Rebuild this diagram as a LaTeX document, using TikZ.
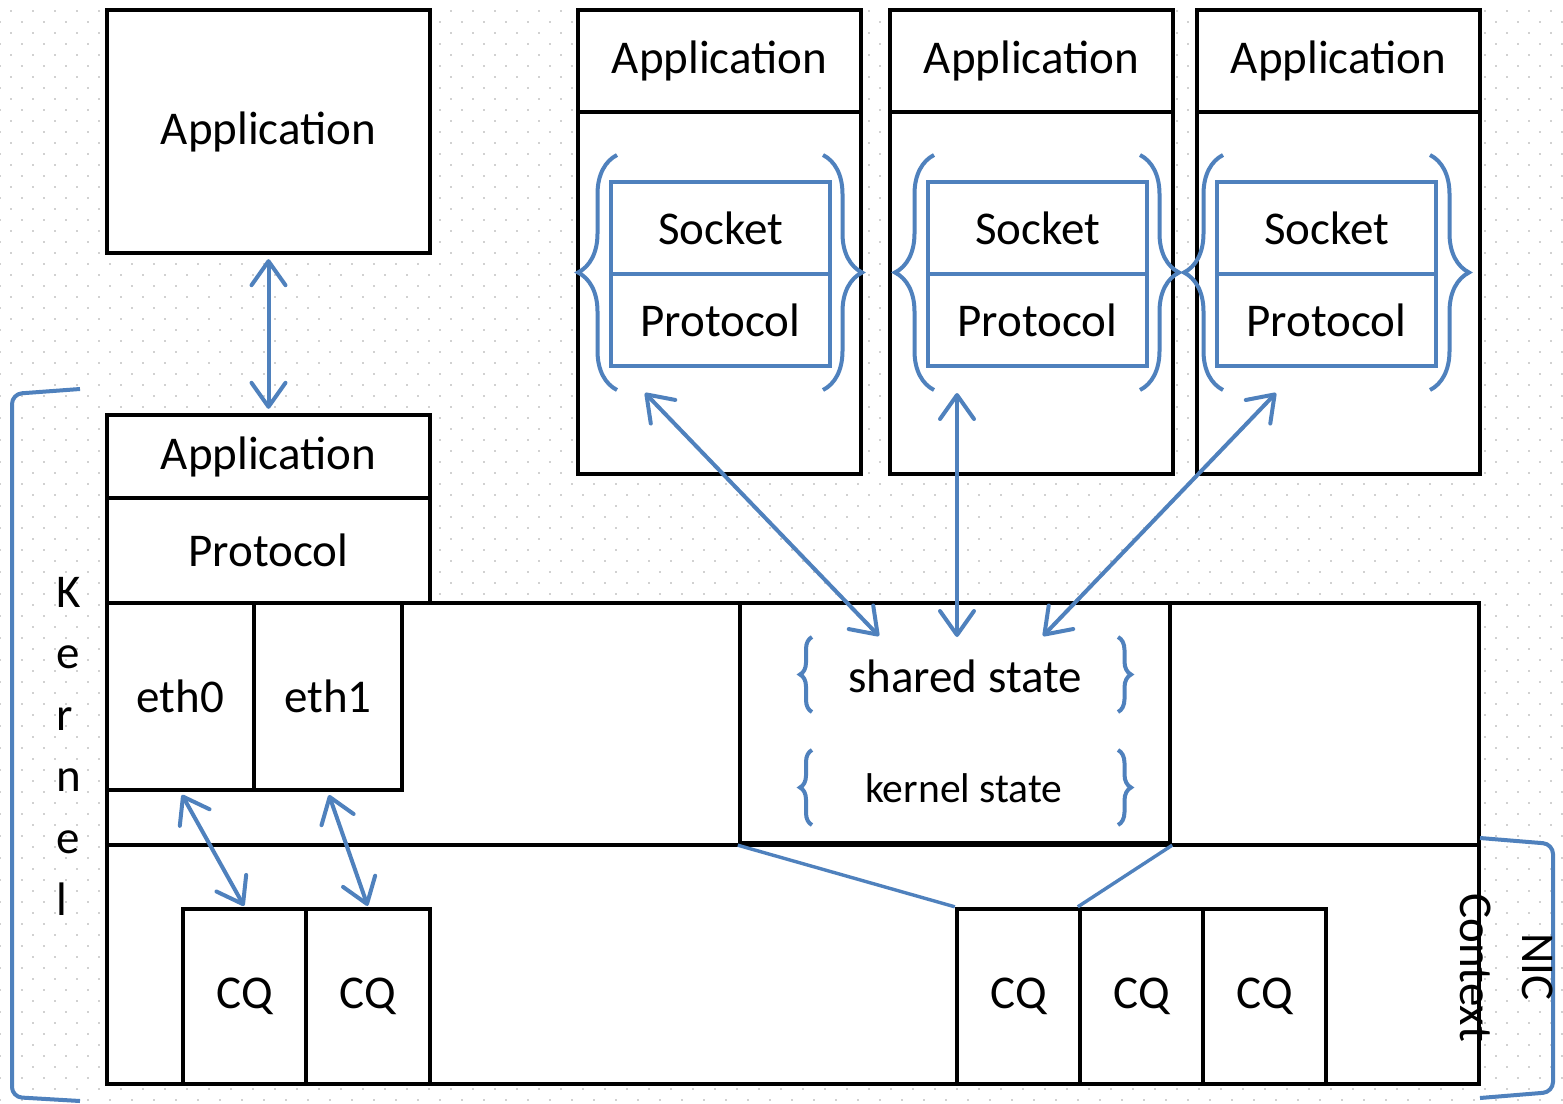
\documentclass[tikz,border=0pt]{standalone}
\usepackage{fontspec}
\setmainfont{Carlito}
\usetikzlibrary{fit,arrows.meta,decorations.pathreplacing}
\definecolor{ofblue}{HTML}{4F81BD}
\begin{document}
\begin{tikzpicture}[x=0.5pt,y=-0.5pt,
  lbl/.style={font=\fontsize{23.5}{28}\selectfont},
  box/.style={draw=black, line width=2.2pt, fill=white, inner sep=0pt},
  bbox/.style={draw=ofblue, line width=2pt, fill=white, inner sep=0pt},
  barb/.tip={Straight Barb[length=12pt,width=17pt,round]},
  dbl/.style={draw=ofblue, line width=2pt, line cap=round, barb-barb},
  brc/.style={draw=ofblue, line width=2pt, decorate, decoration={brace, amplitude=#1}},
  bracket/.style={draw=ofblue, line width=2pt, rounded corners=5pt},
  link/.style={draw=ofblue, line width=1.7pt},
  txt/.style={lbl, inner sep=0pt},
  dotrow/.style={draw=black!18, line width=1pt, dash pattern=on 1pt off 10pt},
]
\useasboundingbox (0,0) rectangle (1563,1103);
\fill[white] (0,0) rectangle (1563,1103);
% dotted background
\foreach \j in {1,...,100}{
  \pgfmathsetmacro\off{mod(\j,2)*11}
  \draw[dotrow] ({\off-1}, {\j*11}) -- (1570, {\j*11});
}

% left column
\node[box, fit={(107,10) (430,253)}] (app0) {};
\node[txt] (app0t) at (app0.center) {Application};
\node[box, fit={(107,603) (1479,1084)}] (kernel) {};
\node[box, fit={(740,603) (1170,843)}] (shared) {};
\draw[black, line width=2.2pt] (kernel.west |- shared.south) -- (kernel.east |- shared.south);
\node[box, fit={(107,415) (430,498)}] (kapp) {};
\node[txt] (kappt) at (kapp.center) {Application};
\node[box, fit={(107,498) (430,603)}] (kproto) {};
\node[txt] (kprotot) at (kproto.center) {Protocol};
\node[box, fit={(107,603) (254,790)}] (eth0) {};
\node[txt] (eth0t) at (eth0.center) {eth0};
\node[box, fit={(254,603) (402,790)}] (eth1) {};
\node[txt] (eth1t) at (eth1.center) {eth1};

% CQs
\foreach \n/\a/\b in {cq1/183/306, cq2/306/430, cq3/957/1080, cq4/1080/1203, cq5/1203/1326}{
  \node[box, fit={(\a,909) (\b,1084)}] (\n) {};
  \node[txt] (\n t) at (\n.center) {CQ};
}

\draw[link] (shared.south west) -- (cq3.north west);
\draw[link] (shared.south east) -- (cq4.north west);

% shared / kernel state
\node[txt, anchor=base] (sst) at (965,692) {shared state};
\node[txt, anchor=base, font=\fontsize{20.8}{25}\selectfont] (kst) at (964,802) {kernel state};
\draw[brc=6pt] (812,712) -- (812,637);
\draw[brc=6.5pt] (1118,637) -- (1118,712);
\draw[brc=6pt] (812,825) -- (812,750);
\draw[brc=6.5pt] (1118,750) -- (1118,825);

% user applications
\foreach \n/\a/\b/\c/\d in {A/578/861/611/830, B/890/1173/928/1147, C/1197/1480/1217/1436}{
  \node[box, fit={(\a,10) (\b,474)}] (app\n) {};
  \node[box, fit={(\a,10) (\b,112)}] (hdr\n) {};
  \node[txt] (hdr\n t) at (hdr\n.center) {Application};
  \node[bbox, fit={(\c,182) (\d,274)}] (sock\n) {};
  \node[txt] (sock\n t) at (sock\n.center) {Socket};
  \node[bbox, fit={(\c,274) (\d,366)}] (prot\n) {};
  \node[txt] (prot\n t) at (prot\n.center) {Protocol};
}

% braces around socket/protocol
\draw[brc=19.5pt] (617,390) -- (617,155);
\draw[brc=19.5pt] (823,155) -- (823,390);
\draw[brc=19.5pt] (934,390) -- (934,155);
\draw[brc=19.5pt] (1140,155) -- (1140,390);
\draw[brc=19.5pt] (1223,390) -- (1223,155);
\draw[brc=19.5pt] (1430,155) -- (1430,390);

% arrows
\draw[dbl, shorten <=2pt, shorten >=2pt] (app0.south) -- (kapp.north);
\draw[dbl, shorten <=1.5pt, shorten >=0.5pt] (eth0.south) -- (cq1.north);
\draw[dbl, shorten <=1.5pt, shorten >=0.5pt] (eth1.south) -- (cq2.north);

\coordinate (pA) at (645,393);
\coordinate (pB) at (957,393);
\coordinate (pC) at (1276,393);
\coordinate (sA) at (879,636);
\coordinate (sB) at (957,637);
\coordinate (sC) at (1043,636);
\draw[dbl] (pA) -- (sA);
\draw[dbl] (pB) -- (sB);
\draw[dbl] (pC) -- (sC);

% kernel bracket and label
\draw[bracket] (80,389) -- (12,394) -- (12,1097) -- (80,1101);
\foreach \c [count=\k from 0] in {K,e,r,n,e,l}
  \node[txt, anchor=base west] (kl\k) at (56, {607+61.6*\k}) {\c};

% NIC context bracket and label
\draw[bracket] (1480,838) -- (1553,844) -- (1553,1092) -- (1480,1098);
\node[txt, rotate=-90, anchor=base] (nic) at (1522,967) {NIC};
\node[txt, rotate=-90, anchor=base] (ctx) at (1460,968) {Context};
\end{tikzpicture}
\end{document}
